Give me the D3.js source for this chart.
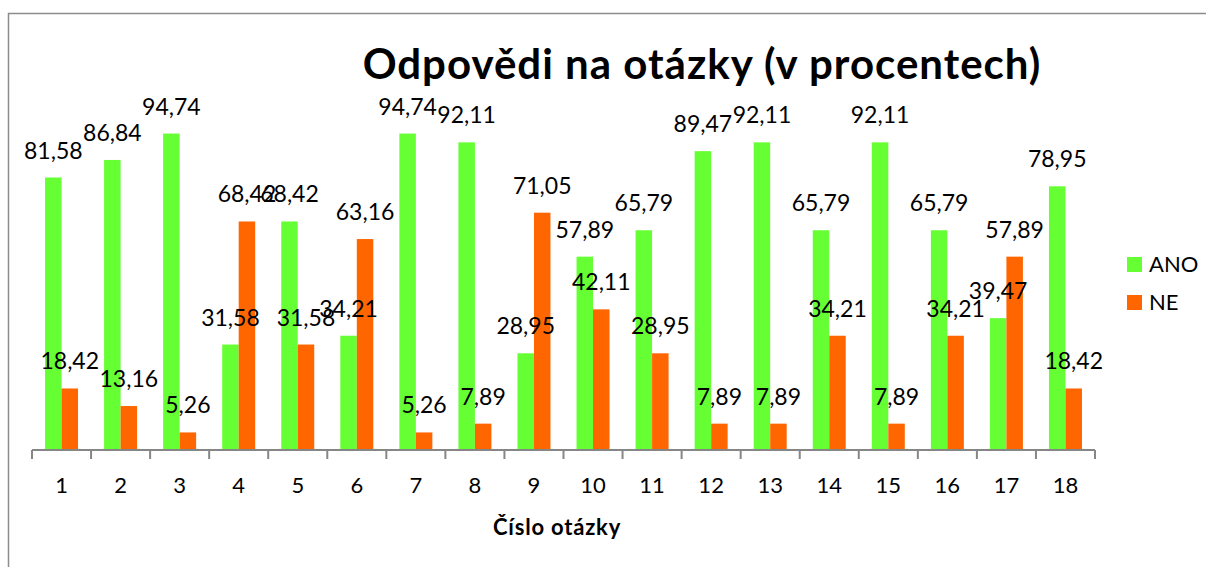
<!DOCTYPE html>
<html>
<head>
<meta charset="utf-8">
<script src="https://cdn.jsdelivr.net/npm/d3@7"></script>
<style>
  body { margin: 0; background: #fff; }
  text { font-family: Lato, "Open Sans", sans-serif; fill: #000; }
</style>
</head>
<body>
<svg id="chart" width="1206" height="567"></svg>
<script>
// data
const categories = ['1','2','3','4','5','6','7','8','9','10','11','12','13','14','15','16','17','18'];
const seriesNames = ['ANO', 'NE'];
const ano = [81.58, 86.84, 94.74, 31.58, 68.42, 34.21, 94.74, 92.11, 28.95, 57.89, 65.79, 89.47, 92.11, 65.79, 92.11, 65.79, 39.47, 78.95];
const ne  = [18.42, 13.16, 5.26, 68.42, 31.58, 63.16, 5.26, 7.89, 71.05, 42.11, 28.95, 7.89, 7.89, 34.21, 7.89, 34.21, 57.89, 18.42];
const colors = ['#66ff33', '#ff6600'];

const svg = d3.select('#chart');
const baseY = 450, topY = 116;

// frame
svg.append('rect')
  .attr('x', 8.5).attr('y', 13.5)
  .attr('width', 1220).attr('height', 600)
  .style('fill', 'none').style('stroke', '#8c8c8c').style('stroke-width', 1.5);

const x = d3.scaleBand().domain(categories).range([32, 1095]).padding(0);
const xs = d3.scaleBand().domain(seriesNames).range([0, x.bandwidth()])
  .paddingInner(0).paddingOuter(0.79);
const y = d3.scaleLinear().domain([0, 100]).range([baseY, topY]);

const rows = categories.map((c, i) => ({ cat: c, values: [ano[i], ne[i]] }));

// bars
const groups = svg.append('g').selectAll('g')
  .data(rows).enter().append('g')
  .attr('transform', d => 'translate(' + x(d.cat) + ',0)');

groups.selectAll('rect')
  .data(d => d.values.map((v, k) => ({ name: seriesNames[k], v: v, k: k })))
  .enter().append('rect')
  .attr('x', d => xs(d.name))
  .attr('width', xs.bandwidth())
  .attr('y', d => y(d.v))
  .attr('height', d => baseY - y(d.v))
  .style('fill', d => colors[d.k]);

// axis
const axis = svg.append('g')
  .attr('transform', 'translate(0,' + baseY + ')')
  .call(d3.axisBottom(x).tickSize(0));
axis.select('.domain').remove();
axis.selectAll('text')
  .attr('y', 43).attr('dy', 0)
  .style('font-size', '22px').style('font-family', 'Lato, sans-serif').style('fill', '#000');

svg.append('line')
  .attr('x1', x.range()[0]).attr('x2', x.range()[1])
  .attr('y1', baseY).attr('y2', baseY)
  .style('stroke', '#868686').style('stroke-width', 2);

const bounds = categories.map(c => x(c)).concat([x.range()[1]]);
svg.append('g').selectAll('line')
  .data(bounds).enter().append('line')
  .attr('x1', d => d).attr('x2', d => d)
  .attr('y1', baseY).attr('y2', baseY + 9)
  .style('stroke', '#868686').style('stroke-width', 2);

// data labels
groups.selectAll('text.lbl')
  .data(d => d.values.map((v, k) => ({ name: seriesNames[k], v: v })))
  .enter().append('text')
  .attr('class', 'lbl')
  .attr('x', d => xs(d.name) + xs.bandwidth() / 2)
  .attr('y', d => y(d.v) - 19)
  .attr('text-anchor', 'middle')
  .style('font-size', '23px')
  .text(d => d.v.toFixed(2).replace('.', ','));

// title
svg.append('text')
  .attr('x', 702).attr('y', 79)
  .attr('text-anchor', 'middle')
  .style('font-size', '42px').style('font-weight', 'bold')
  .style('letter-spacing', '1px')
  .text('Odpovědi na otázky (v procentech)');

svg.append('text')
  .attr('x', 557).attr('y', 535)
  .attr('text-anchor', 'middle')
  .style('font-size', '22px').style('font-weight', 'bold')
  .style('letter-spacing', '0.8px')
  .text('Číslo otázky');

// legend
const legend = svg.append('g').selectAll('g')
  .data(seriesNames).enter().append('g')
  .attr('transform', (d, i) => 'translate(1127,' + (257 + i * 38) + ')');
legend.append('rect')
  .attr('width', 15).attr('height', 15)
  .style('fill', (d, i) => colors[i]);
legend.append('text')
  .attr('x', 22).attr('y', 15)
  .style('font-size', '22px')
  .text(d => d);
</script>
</body>
</html>
